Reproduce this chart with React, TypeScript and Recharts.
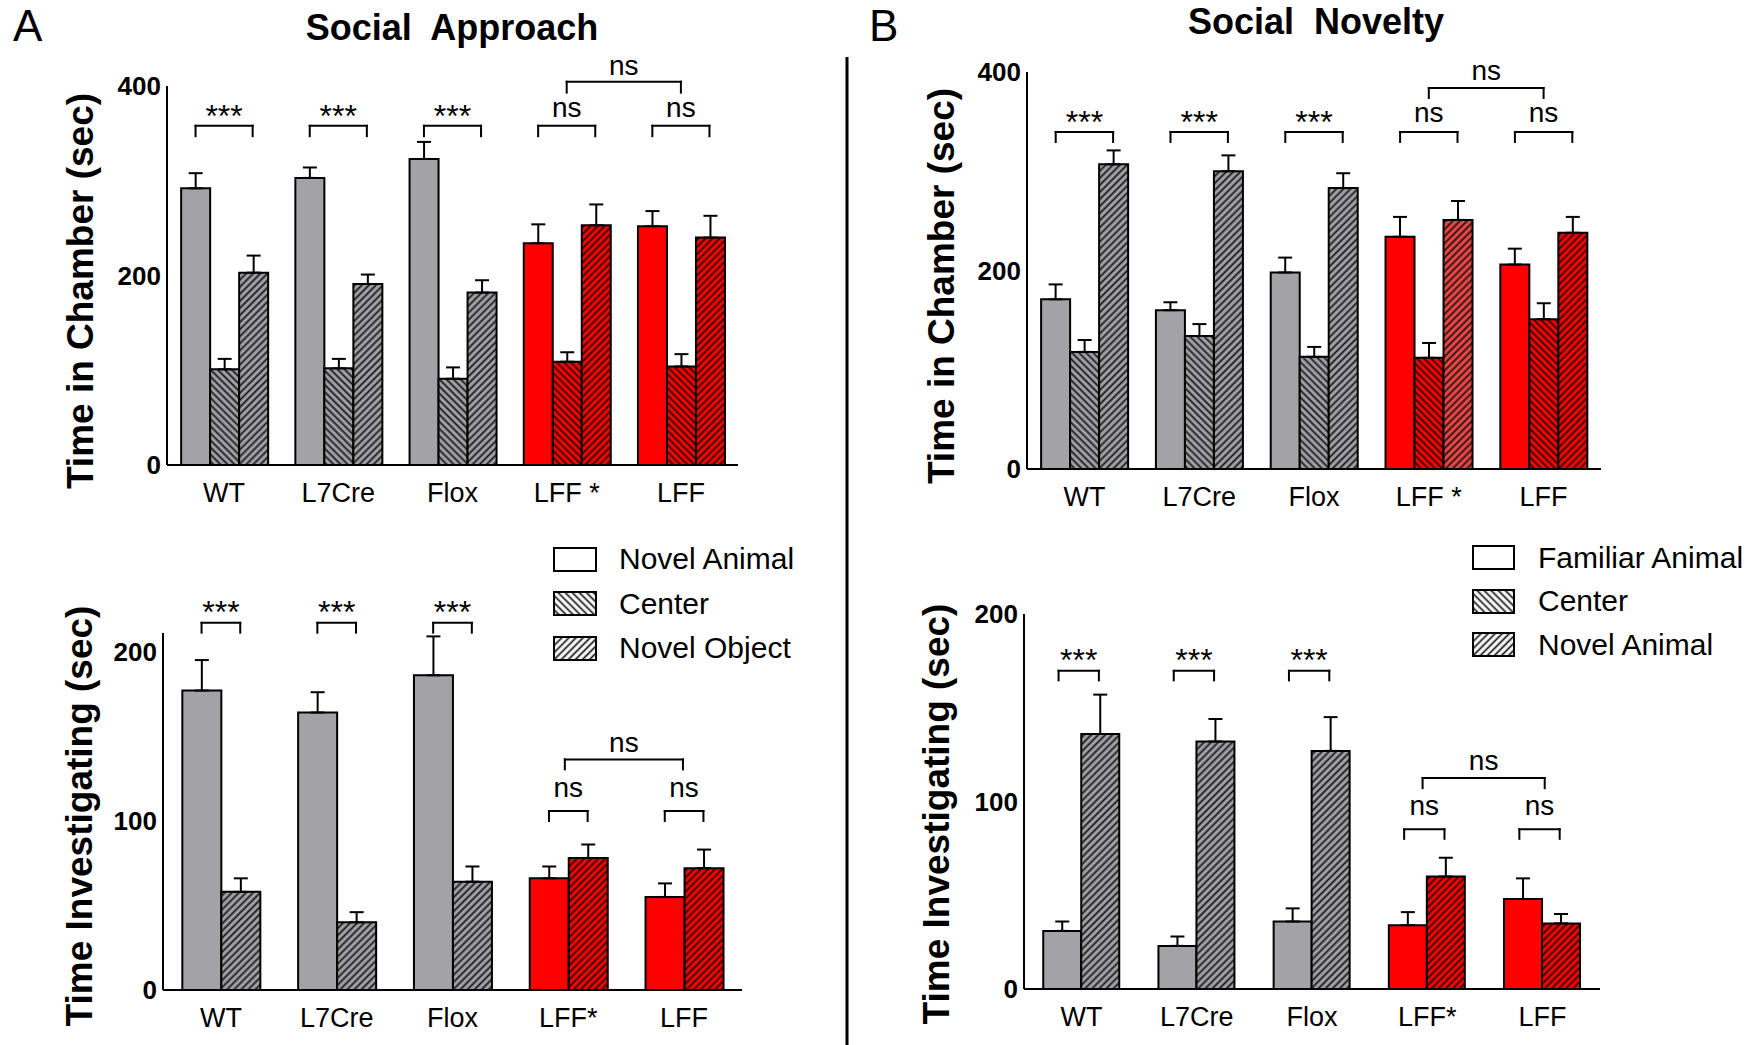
import React from 'react';
import { BarChart, Bar, XAxis, YAxis, ErrorBar, Cell, ReferenceLine, ReferenceDot, Legend } from 'recharts';

const FONT = "'Liberation Sans', Arial, Helvetica, sans-serif";
const GRAY = '#a3a2a7';
const RED = '#ff0000';
const LIGHT_RED = '#f04545';

const GROUPS_TOP = ['WT', 'L7Cre', 'Flox', 'LFF *', 'LFF'];
const GROUPS_BOTTOM = ['WT', 'L7Cre', 'Flox', 'LFF*', 'LFF'];
const SIG = ['***', '***', '***', 'ns', 'ns'];

// A: social approach, time in chamber
const saChamberAnimal = [292, 303, 323, 234, 252];
const saChamberAnimalErr = [16, 11, 18, 20, 16];
const saChamberCenter = [101, 102, 91, 109, 104];
const saChamberCenterErr = [11, 10, 12, 10, 13];
const saChamberObject = [203, 191, 182, 253, 240];
const saChamberObjectErr = [18, 10, 13, 22, 23];

// A: social approach, time investigating
const saInvAnimal = [177, 164, 186, 66, 55];
const saInvAnimalErr = [18, 12, 23, 7, 8];
const saInvObject = [58, 40, 64, 78, 72];
const saInvObjectErr = [8, 6, 9, 8, 11];

// B: social novelty, time in chamber
const snChamberFamiliar = [171, 160, 198, 234, 206];
const snChamberFamiliarErr = [15, 8, 15, 20, 16];
const snChamberCenter = [118, 134, 113, 112, 151];
const snChamberCenterErr = [12, 12, 10, 15, 16];
const snChamberNovel = [307, 300, 283, 251, 238];
const snChamberNovelErr = [14, 16, 15, 19, 16];

// B: social novelty, time investigating
const snInvFamiliar = [31, 23, 36, 34, 48];
const snInvFamiliarErr = [5, 5, 7, 7, 11];
const snInvNovel = [136, 132, 127, 60, 35];
const snInvNovelErr = [21, 12, 18, 10, 5];

const LEGEND_A = ['Novel Animal', 'Center', 'Novel Object'];
const LEGEND_B = ['Familiar Animal', 'Center', 'Novel Animal'];

type Kind = 'solid' | 'back' | 'fwd';

interface SeriesDef {
  values: number[];
  errs: number[];
  kind: Kind;
  light?: number;
}

// bracket offsets are relative to the group centre (in group units)
interface Sig {
  x0: number;
  x1: number;
  top: number[];
  leg: number[];
  textY: number[];
  big: { x0: number; x1: number; top: number; leg: number; textY: number };
}

function fillFor(kind: Kind, i: number, light?: number) {
  if (kind === 'solid') return i >= 3 ? RED : GRAY;
  if (light === i) return `url(#${kind}-light)`;
  return `url(#${kind}-${i >= 3 ? 'red' : 'gray'})`;
}

function Hatch({ id, dir, bg }: { id: string; dir: number; bg: string }) {
  return (
    <pattern id={id} patternUnits="userSpaceOnUse" width={5} height={5} patternTransform={`rotate(${dir * 45})`}>
      <rect width={5} height={5} fill={bg} />
      <line x1={2.5} y1={0} x2={2.5} y2={5} stroke="#111" strokeWidth={1.7} />
    </pattern>
  );
}

function Patterns() {
  return (
    <svg width={0} height={0} style={{ position: 'absolute' }}>
      <defs>
        <Hatch id="back-gray" dir={-1} bg={GRAY} />
        <Hatch id="fwd-gray" dir={1} bg={GRAY} />
        <Hatch id="back-red" dir={-1} bg={RED} />
        <Hatch id="fwd-red" dir={1} bg={RED} />
        <Hatch id="fwd-light" dir={1} bg={LIGHT_RED} />
        <Hatch id="back-white" dir={-1} bg="#fff" />
        <Hatch id="fwd-white" dir={1} bg="#fff" />
      </defs>
    </svg>
  );
}

function LegendBlock({ names, swatchW, rowH, gap }: { names: string[]; swatchW: number; rowH: number; gap: number }) {
  const fills = ['#fff', 'url(#back-white)', 'url(#fwd-white)'];
  return (
    <div>
      {names.map((n, i) => (
        <div key={n} style={{ display: 'flex', alignItems: 'center', height: rowH }}>
          <svg width={swatchW + 2} height={25}>
            <rect x={1} y={1} width={swatchW} height={23} fill={fills[i]} stroke="#000" strokeWidth={2} />
          </svg>
          <span style={{ marginLeft: gap, fontFamily: FONT, fontSize: 30, color: '#000', whiteSpace: 'nowrap' }}>{n}</span>
        </div>
      ))}
    </div>
  );
}

interface PanelProps {
  box: { left: number; top: number; width: number; height: number };
  margin: { top: number; right: number; bottom: number; left: number };
  yAxisWidth: number;
  groups: string[];
  series: SeriesDef[];
  yMax: number;
  ticks: number[];
  gap: string;
  sig: Sig;
  yTitle: string;
  yTitlePos: { x: number; y: number };
  legend?: { names: string[]; left: number; top: number; swatchW: number; rowH: number; gap: number };
}

function Panel({ box, margin, yAxisWidth, groups, series, yMax, ticks, gap, sig, yTitle, yTitlePos, legend }: PanelProps) {
  const data = groups.map((g, i) => {
    const row: Record<string, any> = { group: g, idx: i };
    series.forEach((s, k) => {
      row[`v${k}`] = s.values[i];
      row[`e${k}`] = [0, s.errs[i]];
    });
    return row;
  });

  const line = (key: string, xa: number, ya: number, xb: number, yb: number) => (
    <ReferenceLine
      key={key}
      xAxisId="n"
      segment={[{ x: xa, y: ya }, { x: xb, y: yb }]}
      stroke="#000"
      strokeWidth={2}
      strokeLinecap="square"
      ifOverflow="visible"
    />
  );

  const text = (key: string, x: number, y: number, label: string) => (
    <ReferenceDot
      key={key}
      xAxisId="n"
      x={x}
      y={y}
      ifOverflow="visible"
      shape={(p: any) => (
        <text x={p.cx} y={p.cy} textAnchor="middle" fontFamily={FONT} fontSize={label === 'ns' ? 28 : 32} fill="#000">
          {label}
        </text>
      )}
    />
  );

  const annotations: React.ReactNode[] = [];
  groups.forEach((_, i) => {
    const a = i + sig.x0;
    const b = i + sig.x1;
    annotations.push(line(`l${i}`, a, sig.leg[i], a, sig.top[i]));
    annotations.push(line(`t${i}`, a, sig.top[i], b, sig.top[i]));
    annotations.push(line(`r${i}`, b, sig.top[i], b, sig.leg[i]));
    annotations.push(text(`s${i}`, (a + b) / 2, sig.textY[i], SIG[i]));
  });
  const bg = sig.big;
  annotations.push(line('bl', bg.x0, bg.leg, bg.x0, bg.top));
  annotations.push(line('bt', bg.x0, bg.top, bg.x1, bg.top));
  annotations.push(line('br', bg.x1, bg.top, bg.x1, bg.leg));
  annotations.push(text('bs', (bg.x0 + bg.x1) / 2, bg.textY, 'ns'));

  return (
    <div style={{ position: 'absolute', left: box.left, top: box.top }}>
      <BarChart width={box.width} height={box.height} data={data} margin={margin} barCategoryGap={gap} barGap={0}>
        <XAxis
          dataKey="group"
          interval={0}
          height={45}
          axisLine={{ stroke: '#000', strokeWidth: 2 }}
          tickLine={false}
          tickSize={0}
          tickMargin={18}
          tick={{ fill: '#000', fontSize: 27, fontFamily: FONT }}
        />
        <XAxis xAxisId="n" dataKey="idx" type="number" domain={[-0.5, groups.length - 0.5]} hide allowDataOverflow />
        <YAxis
          domain={[0, yMax]}
          ticks={ticks}
          width={yAxisWidth}
          allowDataOverflow
          axisLine={{ stroke: '#000', strokeWidth: 2 }}
          tickLine={false}
          tickSize={0}
          tickMargin={6}
          tick={{ fill: '#000', fontSize: 26, fontWeight: 'bold', fontFamily: FONT }}
          label={{
            content: () => (
              <text
                transform={`translate(${yTitlePos.x},${yTitlePos.y}) rotate(-90)`}
                textAnchor="middle"
                fontFamily={FONT}
                fontSize={37}
                fontWeight="bold"
                fill="#000"
              >
                {yTitle}
              </text>
            ),
          }}
        />
        {series.map((s, k) => (
          <Bar key={k} dataKey={`v${k}`} isAnimationActive={false} stroke="#000" strokeWidth={2}>
            {data.map((_, i) => (
              <Cell key={i} fill={fillFor(s.kind, i, s.light)} />
            ))}
            <ErrorBar dataKey={`e${k}`} width={7} strokeWidth={2} stroke="#000" />
          </Bar>
        ))}
        {annotations}
        {legend && (
          <Legend
            layout="horizontal"
            align="center"
            verticalAlign="middle"
            wrapperStyle={{ left: legend.left, top: legend.top, width: 320, height: 140 }}
            content={() => <LegendBlock names={legend.names} swatchW={legend.swatchW} rowH={legend.rowH} gap={legend.gap} />}
          />
        )}
      </BarChart>
    </div>
  );
}

export default function App() {
  return (
    <div style={{ position: 'absolute', left: 0, top: 0, width: 1758, height: 1045, background: '#fff', overflow: 'hidden' }}>
      <Patterns />
      <Panel
        box={{ left: 0, top: 0, width: 780, height: 520 }}
        margin={{ top: 86, right: 42, bottom: 10, left: 0 }}
        yAxisWidth={167}
        groups={GROUPS_TOP}
        series={[
          { values: saChamberAnimal, errs: saChamberAnimalErr, kind: 'solid' },
          { values: saChamberCenter, errs: saChamberCenterErr, kind: 'back' },
          { values: saChamberObject, errs: saChamberObjectErr, kind: 'fwd' },
        ]}
        yMax={400}
        ticks={[0, 200, 400]}
        gap="12.4%"
        sig={{
          x0: -0.25,
          x1: 0.25,
          top: [358, 358, 358, 358, 358],
          leg: [347, 347, 347, 347, 347],
          textY: [357, 357, 357, 367.6, 367.6],
          big: { x0: 3, x1: 4, top: 404.5, leg: 393, textY: 411.6 },
        }}
        yTitle="Time in Chamber (sec)"
        yTitlePos={{ x: 93, y: 291 }}
      />
      <Panel
        box={{ left: 0, top: 520, width: 840, height: 525 }}
        margin={{ top: 113, right: 98, bottom: 10, left: 0 }}
        yAxisWidth={163}
        groups={GROUPS_BOTTOM}
        series={[
          { values: saInvAnimal, errs: saInvAnimalErr, kind: 'solid' },
          { values: saInvObject, errs: saInvObjectErr, kind: 'fwd' },
        ]}
        yMax={211}
        ticks={[0, 100, 200]}
        gap="16.7%"
        sig={{
          x0: -0.167,
          x1: 0.167,
          top: [217, 217, 217, 105.8, 105.8],
          leg: [211.2, 211.2, 211.2, 99.9, 99.9],
          textY: [217, 217, 217, 114.2, 114.2],
          big: { x0: 2.97, x1: 3.99, top: 136.3, leg: 130.4, textY: 140.8 },
        }}
        yTitle="Time Investigating (sec)"
        yTitlePos={{ x: 92, y: 296 }}
        legend={{ names: LEGEND_A, left: 553, top: 17, swatchW: 42, rowH: 44.5, gap: 22 }}
      />
      <Panel
        box={{ left: 850, top: 0, width: 908, height: 520 }}
        margin={{ top: 72, right: 157, bottom: 6, left: 0 }}
        yAxisWidth={177}
        groups={GROUPS_TOP}
        series={[
          { values: snChamberFamiliar, errs: snChamberFamiliarErr, kind: 'solid' },
          { values: snChamberCenter, errs: snChamberCenterErr, kind: 'back' },
          { values: snChamberNovel, errs: snChamberNovelErr, kind: 'fwd', light: 3 },
        ]}
        yMax={400}
        ticks={[0, 200, 400]}
        gap="12.3%"
        sig={{
          x0: -0.25,
          x1: 0.25,
          top: [339.6, 339.6, 339.6, 339.6, 339.6],
          leg: [329.5, 329.5, 329.5, 329.5, 329.5],
          textY: [338.3, 338.3, 338.3, 349.6, 349.6],
          big: { x0: 3, x1: 4, top: 383.9, leg: 373.8, textY: 391.6 },
        }}
        yTitle="Time in Chamber (sec)"
        yTitlePos={{ x: 104, y: 286 }}
      />
      <Panel
        box={{ left: 850, top: 520, width: 908, height: 525 }}
        margin={{ top: 94, right: 158, bottom: 11, left: 0 }}
        yAxisWidth={174}
        groups={GROUPS_BOTTOM}
        series={[
          { values: snInvFamiliar, errs: snInvFamiliarErr, kind: 'solid' },
          { values: snInvNovel, errs: snInvNovelErr, kind: 'fwd' },
        ]}
        yMax={200}
        ticks={[0, 100, 200]}
        gap="16.7%"
        sig={{
          x0: -0.2,
          x1: 0.15,
          top: [169.7, 169.7, 169.7, 85.2, 85.2],
          leg: [164.6, 164.6, 164.6, 80.1, 80.1],
          textY: [169.7, 169.7, 169.7, 92.9, 92.9],
          big: { x0: 2.96, x1: 4.02, top: 112.5, leg: 107.1, textY: 116.9 },
        }}
        yTitle="Time Investigating (sec)"
        yTitlePos={{ x: 99, y: 294 }}
        legend={{ names: LEGEND_B, left: 622, top: 16, swatchW: 41, rowH: 43.5, gap: 23 }}
      />
      <svg width={1758} height={1045} style={{ position: 'absolute', left: 0, top: 0, pointerEvents: 'none' }}>
        <text x={13} y={41} fontFamily={FONT} fontSize={44} fill="#000">A</text>
        <text x={452} y={40} textAnchor="middle" fontFamily={FONT} fontSize={36} fontWeight="bold" fill="#000" style={{ whiteSpace: 'pre' }}>
          Social  Approach
        </text>
        <text x={869} y={41} fontFamily={FONT} fontSize={44} fill="#000">B</text>
        <text x={1316} y={34} textAnchor="middle" fontFamily={FONT} fontSize={36} fontWeight="bold" fill="#000" style={{ whiteSpace: 'pre' }}>
          Social  Novelty
        </text>
        <line x1={847} y1={57} x2={847} y2={1045} stroke="#000" strokeWidth={3} />
      </svg>
    </div>
  );
}
